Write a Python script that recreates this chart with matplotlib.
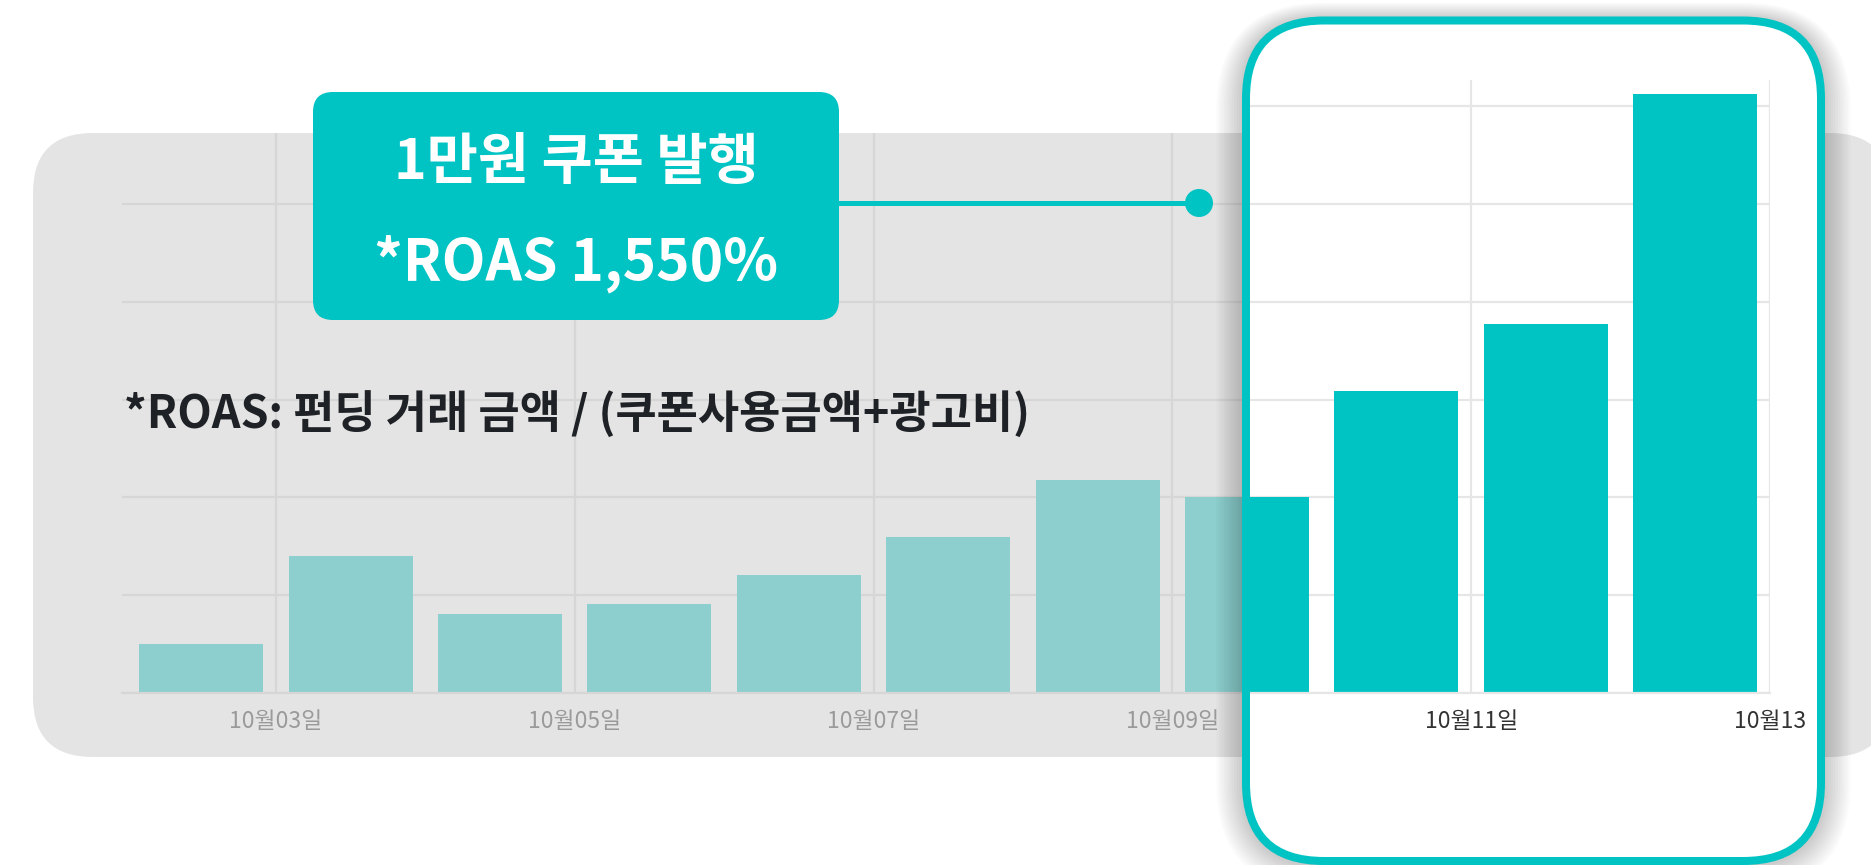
import matplotlib
matplotlib.use("Agg")
import matplotlib.pyplot as plt
from matplotlib.patches import FancyBboxPatch, Circle
from matplotlib.lines import Line2D
from matplotlib.transforms import Affine2D

plt.rcParams['font.family'] = ['Noto Sans CJK KR', 'DejaVu Sans']

# daily values (grid step = 10)
values = [5.0, 14.0, 8.1, 9.1, 12.1, 16.0, 21.8, 20.0, 30.9, 37.7, 61.3]
tick_pos = [0.5, 2.5, 4.5, 6.5, 8.5, 10.5]
tick_labels = ['10월03일', '10월05일', '10월07일', '10월09일', '10월11일', '10월13']
grid_vals = [0, 10, 20, 30, 40, 50, 60]

badge_line1 = '1만원 쿠폰 발행'
badge_line2 = '*ROAS 1,550%'
note = '*ROAS: 펀딩 거래 금액 / (쿠폰사용금액+광고비)'

TEAL = '#00c3c3'
W, H = 1871, 865
CARD = (1246, 20.5, 1821, 861)

fig = plt.figure(figsize=(W / 100, H / 100), dpi=100)
# pixel coords, y down
T = Affine2D().scale(1 / W, -1 / H).translate(0, 1) + fig.transFigure


def rbox(x0, y0, x1, y1, r, **kw):
    return FancyBboxPatch((x0, y0), x1 - x0, y1 - y0,
                          boxstyle="round,pad=0,rounding_size=%g" % r,
                          transform=T, **kw)


# gray background card
gray = rbox(33, 133, 1890, 757, 60, fc='#e4e4e4', ec='none', zorder=0.5)
fig.add_artist(gray)

ax_rect = [122 / W, 1 - 693 / H, (1770 - 122) / W, (693 - 80) / H]


def draw_chart(ax, bar_color, grid_color, label_color, weight):
    ax.bar(range(len(values)), values, width=0.83, color=bar_color, zorder=2)
    ax.set_xlim(-0.53, 10.5)
    ax.set_ylim(0, 62.7)
    ax.set_yticks(grid_vals)
    ax.set_xticks(tick_pos, tick_labels)
    ax.grid(True, color=grid_color, lw=1.6)
    ax.set_axisbelow(True)
    ax.tick_params(length=0, labelleft=False, pad=12, labelsize=16.5,
                   labelcolor=label_color)
    for lbl in ax.get_xticklabels():
        lbl.set_fontweight(weight)
    for s in ['top', 'left', 'right']:
        ax.spines[s].set_visible(False)
    ax.spines['bottom'].set_color(grid_color)
    ax.spines['bottom'].set_linewidth(1.6)
    ax.patch.set_visible(False)


# faded chart on the gray card
ax1 = fig.add_axes(ax_rect, zorder=1)
draw_chart(ax1, '#8ccfce', '#d6d6d6', '#9a9a9a', 'normal')
for p in ax1.patches:
    p.set_clip_path(gray)
ax1.xaxis.set_clip_path(gray)
ax1.yaxis.set_clip_path(gray)
ax1.spines['bottom'].set_clip_path(gray)

# shadow of the highlight card
for i in range(12):
    d = 2 + i * 2.5
    fig.add_artist(rbox(CARD[0] - d, CARD[1] - d * 0.6, CARD[2] + d, CARD[3] + d,
                        78 + d, fc='black', ec='none', alpha=0.018, zorder=1.5))

# highlight card
fig.add_artist(rbox(*CARD, 78, fc='white', ec='none', zorder=2))
inner = rbox(CARD[0] + 4, CARD[1] + 4, CARD[2] - 4, CARD[3] - 4, 74,
             fc='none', ec='none')

ax2 = fig.add_axes(ax_rect, zorder=3)
draw_chart(ax2, TEAL, '#e6e6e6', '#333333', 'medium')
for p in ax2.patches:
    p.set_clip_path(inner)
ax2.xaxis.set_clip_path(inner)
ax2.yaxis.set_clip_path(inner)
ax2.spines['bottom'].set_clip_path(inner)
# text is not clipped by paths in Agg: keep only labels that sit inside the card
for t, lbl in zip(tick_pos, ax2.get_xticklabels()):
    px = ax2.transData.transform((t, 0))[0]
    if px < CARD[0] + 60:
        lbl.set_visible(False)

fig.add_artist(rbox(*CARD, 78, fc='none', ec=TEAL, lw=8 * 0.72, zorder=4))

# badge with connector
fig.add_artist(Line2D([839, 1199], [203, 203], color=TEAL, lw=5 * 0.72,
                      transform=T, zorder=5))
fig.add_artist(Circle((1199, 203), 14, fc=TEAL, ec='none', transform=T, zorder=5))
fig.add_artist(rbox(313, 92, 839, 320, 20, fc=TEAL, ec='none', zorder=5))
fig.text(576 / W, 1 - 179 / H, badge_line1, color='white', fontsize=40,
         fontweight='bold', ha='center', va='baseline', zorder=6)
fig.text(576 / W, 1 - 280 / H, badge_line2, color='white', fontsize=41,
         fontweight='bold', ha='center', va='baseline', zorder=6)

fig.text(124 / W, 1 - 429 / H, note, color='#1e2125', fontsize=32.3,
         fontweight='bold', ha='left', va='baseline', zorder=6)

fig.savefig('out.png', dpi=100, facecolor='white')
